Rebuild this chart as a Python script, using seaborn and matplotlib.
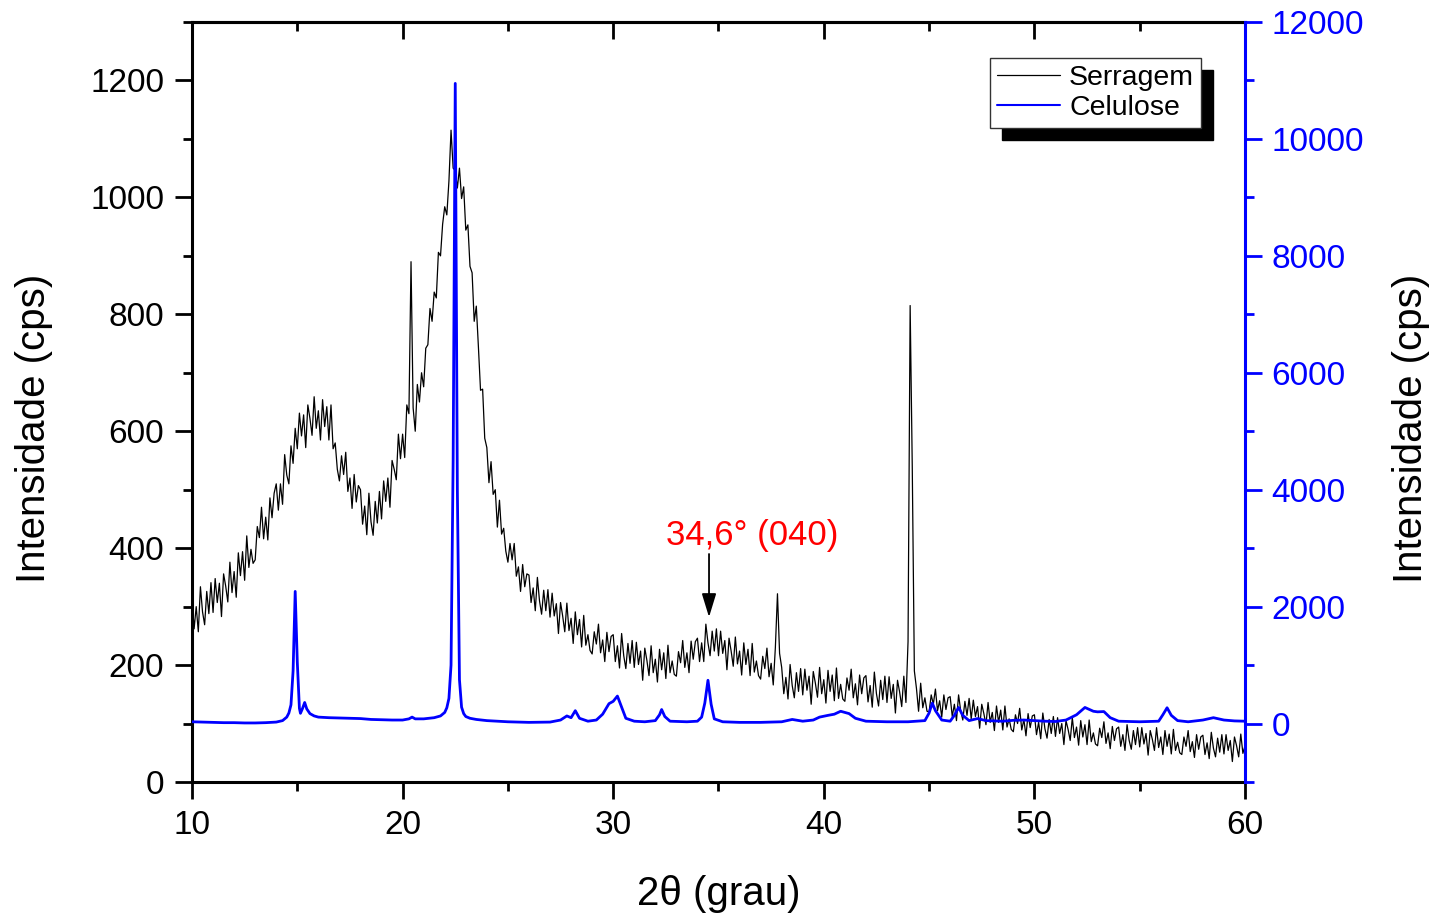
import numpy as np
import pandas as pd
import matplotlib
matplotlib.use("Agg")
import matplotlib.pyplot as plt
from matplotlib.ticker import MultipleLocator
from matplotlib.lines import Line2D
import seaborn as sns

# ---------------- data ----------------
theta_start = 10.0
theta_step = 0.1

# Serragem intensity (cps), one row per degree, 0.1 deg steps, 10.0 .. 60.0
serragem = [
    315, 262, 300, 257, 334, 291, 269, 326, 288, 341,
    290, 348, 307, 340, 283, 356, 335, 308, 376, 324,
    360, 316, 392, 353, 394, 345, 421, 367, 398, 374,
    380, 437, 418, 470, 416, 453, 414, 486, 452, 494,
    510, 465, 510, 475, 560, 525, 510, 575, 545, 605,
    570, 631, 592, 628, 572, 645, 622, 593, 659, 605,
    635, 585, 654, 608, 642, 585, 645, 570, 580, 535,
    515, 558, 526, 564, 497, 520, 468, 526, 479, 507,
    500, 441, 472, 423, 494, 445, 422, 480, 443, 497,
    450, 515, 480, 520, 470, 550, 535, 517, 595, 553,
    595, 555, 645, 630, 890, 640, 600, 680, 650, 700,
    676, 742, 748, 810, 788, 838, 828, 906, 900, 954,
    984, 970, 1028, 1115, 1050, 1046, 1016, 1050, 998, 1018,
    944, 953, 882, 871, 788, 814, 744, 670, 672, 588,
    572, 512, 548, 492, 500, 436, 482, 424, 434, 395,
    376, 408, 380, 408, 352, 368, 326, 372, 334, 356,
    354, 307, 332, 293, 350, 310, 287, 328, 293, 329,
    282, 323, 284, 305, 254, 307, 284, 257, 306, 259,
    280, 237, 291, 252, 278, 231, 285, 234, 252, 225,
    219, 257, 236, 270, 221, 243, 206, 256, 223, 249,
    252, 206, 233, 195, 254, 216, 194, 237, 203, 242,
    196, 239, 201, 224, 174, 229, 208, 182, 233, 187,
    210, 171, 227, 192, 221, 177, 234, 187, 207, 184,
    181, 223, 204, 242, 196, 221, 187, 241, 210, 240,
    246, 206, 238, 206, 270, 238, 216, 258, 224, 262,
    216, 258, 220, 242, 192, 246, 224, 198, 248, 202,
    224, 183, 238, 201, 227, 182, 237, 188, 207, 182,
    176, 215, 194, 229, 180, 203, 166, 230, 322, 220,
    196, 151, 179, 142, 201, 165, 144, 187, 155, 194,
    149, 193, 157, 181, 133, 189, 169, 145, 196, 151,
    175, 135, 191, 155, 183, 139, 195, 143, 167, 142,
    138, 178, 157, 193, 144, 168, 132, 183, 151, 178,
    182, 137, 165, 128, 188, 151, 130, 174, 141, 181,
    136, 180, 143, 167, 118, 174, 154, 129, 181, 136,
    240, 815, 540, 190, 160, 121, 169, 127, 144, 121,
    120, 149, 133, 159, 122, 139, 111, 149, 124, 144,
    146, 112, 133, 105, 149, 122, 106, 138, 114, 143,
    108, 140, 112, 129, 92, 133, 117, 98, 136, 102,
    119, 88, 130, 102, 123, 89, 130, 94, 108, 90,
    86, 115, 100, 126, 89, 107, 79, 117, 93, 113,
    115, 81, 102, 74, 118, 91, 75, 107, 83, 112,
    78, 110, 83, 100, 64, 105, 90, 71, 110, 76,
    94, 63, 105, 77, 98, 64, 106, 69, 84, 65,
    62, 92, 76, 103, 66, 84, 57, 95, 71, 91,
    94, 61, 81, 54, 98, 71, 56, 88, 64, 93,
    60, 93, 65, 83, 46, 88, 73, 54, 93, 59,
    77, 47, 88, 61, 82, 48, 90, 54, 68, 50,
    47, 77, 61, 88, 52, 69, 42, 81, 56, 77,
    80, 47, 67, 40, 85, 58, 43, 75, 51, 81,
    48, 81, 54, 71, 35, 77, 62, 43, 82, 49,
    62,
]

# Celulose intensity (cps), right axis
cel_theta = [
    10.0, 10.5, 11.0, 11.5, 12.0, 12.5, 13.0, 13.5, 14.0,
    14.3, 14.5, 14.6, 14.7, 14.8, 14.9, 15.0, 15.1, 15.15, 15.25,
    15.35, 15.45, 15.6, 15.8, 16.0, 16.5, 17.0, 17.5, 18.0, 18.5,
    19.0, 19.5, 20.0, 20.3, 20.45, 20.6, 21.0, 21.5, 21.8, 22.0,
    22.1, 22.2, 22.3, 22.4, 22.5, 22.6, 22.7, 22.8, 22.9, 23.0,
    23.2, 23.5, 24.0, 25.0, 26.0, 27.0, 27.5, 27.8, 28.0, 28.2,
    28.4, 28.8, 29.2, 29.5, 29.8, 30.0, 30.2, 30.4, 30.6, 31.0,
    31.5, 32.0, 32.2, 32.3, 32.45, 32.7, 33.5, 34.0, 34.2, 34.35,
    34.5, 34.65, 34.8, 35.2, 36.0, 37.0, 38.0, 38.5, 39.0, 39.5,
    39.8, 40.2, 40.5, 40.8, 41.2, 41.5, 42.0, 43.0, 44.0, 44.8,
    45.0, 45.15, 45.3, 45.6, 46.0, 46.2, 46.4, 46.6, 46.9, 47.3,
    47.7, 48.5, 49.0, 49.5, 50.0, 50.5, 51.0, 51.5, 52.0, 52.4,
    52.8, 53.0, 53.3, 53.6, 54.0, 55.0, 55.9, 56.1, 56.3, 56.5,
    56.8, 57.3, 58.0, 58.5, 59.0, 59.5, 60.0,
]
celulose = [
    30, 25, 20, 15, 15, 10, 10, 15, 25,
    50, 110, 180, 320, 900, 2260, 1050, 260, 175, 260,
    360, 250, 170, 130, 110, 100, 95, 90, 85, 70,
    65, 60, 60, 80, 110, 80, 80, 100, 130, 190,
    270, 430, 1000, 4500, 10950, 4000, 750, 280, 170, 120,
    90, 70, 50, 30, 20, 25, 60, 130, 100, 220,
    90, 40, 60, 160, 340, 380, 470, 280, 90, 40,
    30, 50, 150, 240, 120, 40, 30, 40, 110, 350,
    740, 330, 80, 30, 20, 20, 30, 70, 40, 60,
    110, 140, 160, 210, 170, 90, 40, 30, 30, 50,
    180, 350, 220, 60, 40, 140, 275, 140, 50, 85,
    50, 40, 55, 60, 50, 40, 35, 60, 150, 275,
    210, 200, 205, 100, 40, 30, 40, 150, 270, 140,
    50, 30, 60, 100, 60, 45, 40,
]

x_ticks = [10, 20, 30, 40, 50, 60]
left_ticks = [0, 200, 400, 600, 800, 1000, 1200]
right_ticks = [0, 2000, 4000, 6000, 8000, 10000, 12000]

series_names = ["Serragem", "Celulose"]
annot_text = "34,6° (040)"
annot_pos = 34.55

# ---------------- figure ----------------
sns.set_style("ticks")
plt.rcParams["font.family"] = ["Liberation Sans", "DejaVu Sans"]
for key in ["text.color", "axes.labelcolor", "xtick.color", "ytick.color", "axes.edgecolor"]:
    plt.rcParams[key] = "black"

theta = np.round(theta_start + theta_step * np.arange(len(serragem)), 2)
df_s = pd.DataFrame({"theta": theta, "I": serragem})
df_c = pd.DataFrame({"theta": cel_theta, "I": celulose})

fig = plt.figure(figsize=(14.34, 9.15), dpi=100)
ax = fig.add_axes([192 / 1434, 1 - 782 / 915, (1245 - 192) / 1434, (782 - 22) / 915])
ax2 = ax.twinx()

sns.lineplot(data=df_s, x="theta", y="I", ax=ax, color="black", lw=0.9,
             estimator=None, sort=False, legend=False)
sns.lineplot(data=df_c, x="theta", y="I", ax=ax2, color="#0000FF", lw=2.0,
             estimator=None, sort=False, legend=False)

ax.set_xlim(10, 60)
ax.set_ylim(0, 1300)
ax2.set_ylim(-1000, 12000)

ax.set_xticks(x_ticks)
ax.set_yticks(left_ticks)
ax2.set_yticks(right_ticks)
ax.xaxis.set_minor_locator(MultipleLocator(5))
ax.yaxis.set_minor_locator(MultipleLocator(100))
ax2.yaxis.set_minor_locator(MultipleLocator(1000))

lw_sp = 2.2
for s in ["left", "bottom", "top"]:
    ax.spines[s].set_linewidth(lw_sp)
    ax.spines[s].set_color("black")
ax.spines["right"].set_visible(False)
for s in ["left", "bottom", "top"]:
    ax2.spines[s].set_visible(False)
ax2.spines["right"].set_linewidth(lw_sp)
ax2.spines["right"].set_color("#0000FF")

ax.tick_params(which="major", length=12, width=2, labelsize=24, direction="out", pad=8, colors="black")
ax.tick_params(which="minor", length=6.5, width=2, direction="out")
ax.tick_params(axis="x", top=False)
ax2.tick_params(axis="y", which="major", length=12, width=2, labelsize=24, direction="out",
                pad=7, colors="#0000FF")
ax2.tick_params(axis="y", which="minor", length=6.5, width=2, direction="out", colors="#0000FF")

sec = ax.secondary_xaxis("top")
sec.xaxis.set_major_locator(MultipleLocator(10))
sec.xaxis.set_minor_locator(MultipleLocator(5))
sec.tick_params(which="major", direction="in", length=12, width=2, labeltop=False)
sec.tick_params(which="minor", direction="in", length=6.5, width=2)
sec.spines["top"].set_linewidth(lw_sp)

ax.set_xlabel("2θ (grau)", fontsize=29, color="black")
ax.set_ylabel("Intensidade (cps)", fontsize=29, color="black")
ax2.set_ylabel("Intensidade (cps)", fontsize=29, color="black")
ax.xaxis.set_label_coords(0.5, -0.122)
ax.yaxis.set_label_coords(-0.132, 0.465)
ax2.yaxis.set_label_coords(1.14, 0.465)

# annotation
ax.annotate("", xy=(annot_pos, 282), xytext=(annot_pos, 390),
            arrowprops=dict(arrowstyle="-|>,head_length=0.72,head_width=0.22",
                            color="black", lw=1.3, mutation_scale=20,
                            shrinkA=0, shrinkB=0))
ax.text(36.61, 422, annot_text, color="#FF0000", fontsize=25, ha="center", va="center")

# legend
handles = [Line2D([], [], color="black", lw=0.9), Line2D([], [], color="#0000FF", lw=1.5)]
leg = ax2.legend(handles, series_names, loc="upper left",
                 bbox_to_anchor=(990 / 1434, 1 - 58 / 915), bbox_transform=fig.transFigure,
                 borderaxespad=0, fontsize=20.5, frameon=True, fancybox=False,
                 edgecolor="#333333", framealpha=1, handlelength=2.2, handletextpad=0.33,
                 labelspacing=0.12, borderpad=0.25,
                 shadow={"ox": 8.6, "oy": -8.6, "facecolor": "black", "edgecolor": "black",
                         "alpha": 1})
leg.get_frame().set_linewidth(1.0)
for t in leg.get_texts():
    t.set_color("black")

fig.savefig("out.png", dpi=100)
